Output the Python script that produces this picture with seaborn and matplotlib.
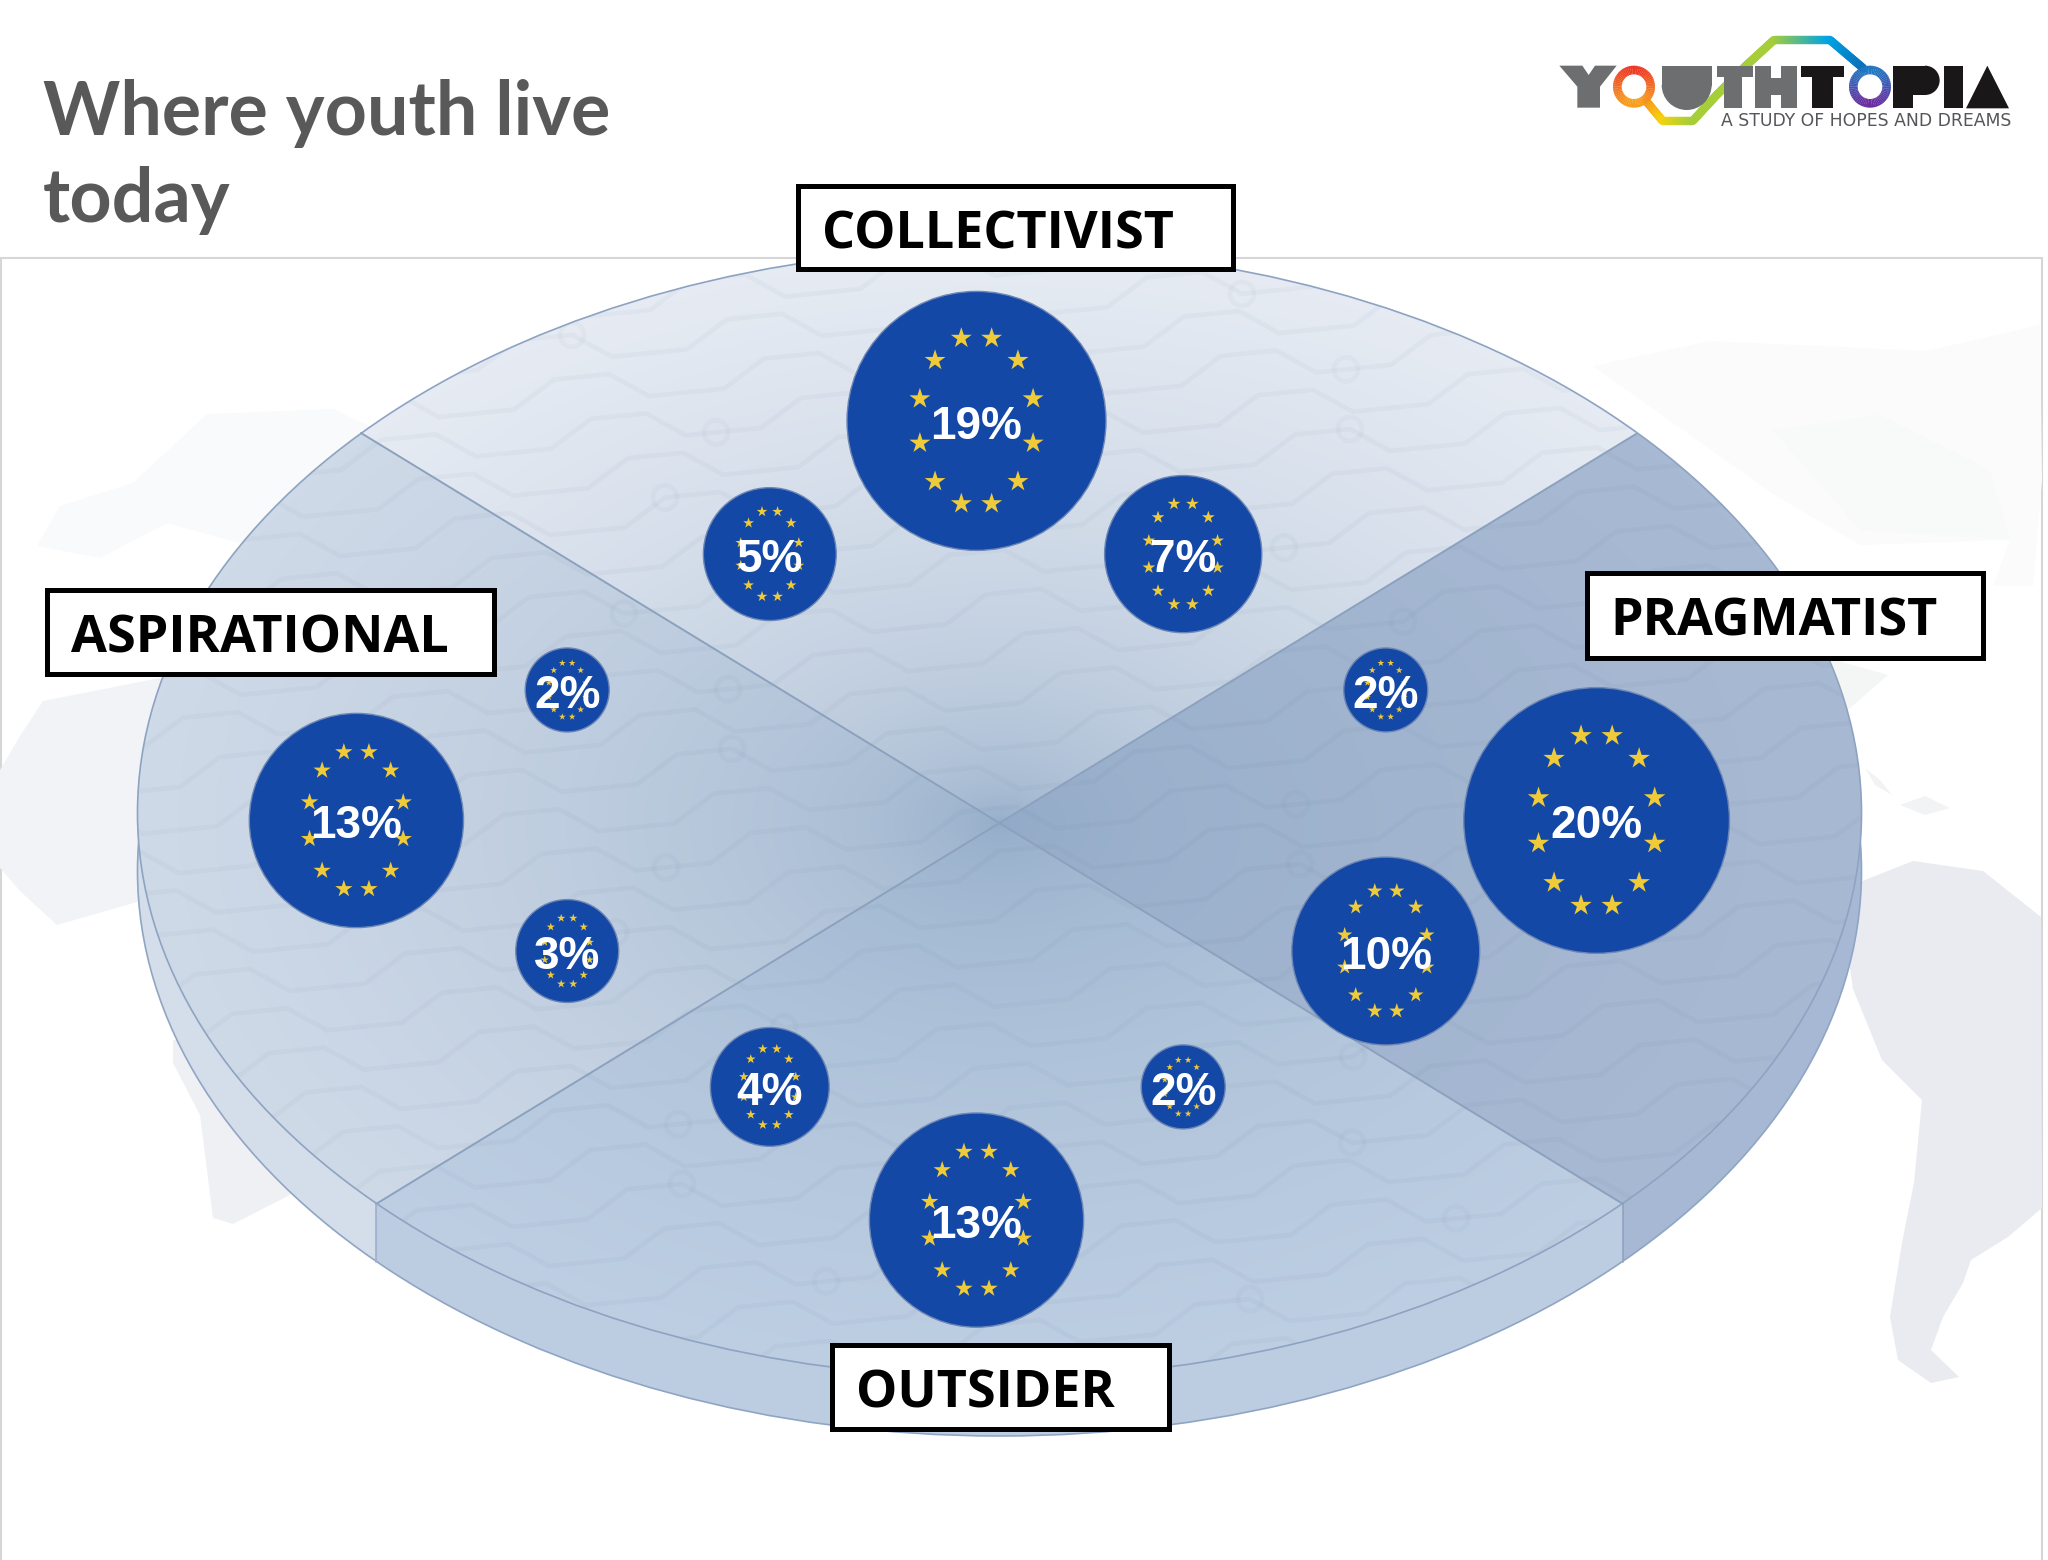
import numpy as np
import pandas as pd
import seaborn as sns
import matplotlib
matplotlib.use('Agg')
import matplotlib.pyplot as plt
from matplotlib.collections import LineCollection
from matplotlib.colors import to_rgb
from matplotlib.patches import Ellipse, Polygon, Rectangle, Wedge

# clock positions on the diamond grid, starting from 12 o'clock
bubble_share = [19, 7, 2, 20, 10, 2, 13, 4, 3, 13, 2, 5]
bubble_col = [0, 1, 1.98, 3, 1.98, 1, 0, -1, -1.98, -3, -1.98, -1]
bubble_row = [-3, -2, -0.98, 0, 0.98, 2, 3, 2, 0.98, 0, -0.98, -2]
segment_names = ["COLLECTIVIST", "PRAGMATIST", "OUTSIDER", "ASPIRATIONAL"]
title_lines = ["Where youth live", "today"]
logo_tagline = "A STUDY OF HOPES AND DREAMS"

W, H = 2048, 1560
CX, CY, RX, RY = 999.5, 813, 862, 565
THICK = 58
# grid spacing of the bubbles, in pixels
X0, Y0, DX, DY = 976.5, 820.5, 206.7, 133.2

sns.set_theme(style="white")
plt.rcParams['font.family'] = ['Liberation Sans', 'DejaVu Sans']

fig = plt.figure(figsize=(W / 100, H / 100), dpi=100, facecolor="white")
ax = fig.add_axes([0, 0, 1, 1])
ax.set_xlim(0, W)
ax.set_ylim(H, 0)
ax.axis("off")

# slide panel
ax.add_patch(Rectangle((1, 258), 2041, 1310, fc="white", ec="#d6d6d6", lw=1.5, zorder=0))

# faint world map behind the disc
map_shapes = [
    ("#f9fafb", [(37, 546), (60, 506), (133, 483), (207, 414), (333, 409), (420, 450), (300, 560), (167, 523), (100, 558)]),
    ("#f1f3f7", [(0, 770), (20, 736), (43, 701), (160, 678), (300, 690), (300, 900), (137, 902), (57, 925), (20, 891), (0, 868)]),
    ("#eef0f4", [(173, 1063), (200, 1115), (213, 1218), (233, 1224), (290, 1195), (340, 1150), (260, 1040), (173, 1040)]),
    ("#fbfbfc", [(1593, 366), (1710, 341), (1927, 351), (2040, 325), (2042, 480), (2033, 586), (1993, 586), (2010, 540), (1860, 545), (1773, 494)]),
    ("#f8f9f9", [(1773, 430), (1880, 415), (1990, 470), (2010, 540), (1860, 530)]),
    ("#f3f6f4", [(1800, 650), (1888, 675), (1850, 708), (1810, 720)]),
    ("#f1f3f5", [(1900, 805), (1925, 796), (1950, 808), (1925, 815)]),
    ("#f1f3f5", [(1865, 768), (1880, 780), (1892, 795), (1875, 785)]),
    ("#e9ebf1", [(1840, 900), (1860, 882), (1913, 861), (1983, 871), (2041, 917), (2042, 1208), (2008, 1237), (1971, 1260),
                 (1963, 1283), (1943, 1317), (1931, 1350), (1959, 1377), (1931, 1383), (1898, 1360), (1890, 1317), (1902, 1243),
                 (1914, 1183), (1922, 1100), (1882, 1060), (1853, 989)]),
]
for colour, pts in map_shapes:
    ax.add_patch(Polygon(pts, closed=True, fc=colour, ec="none", zorder=1))

# disc shading, built per pixel
yy, xx = np.mgrid[0:H, 0:W] + 0.5
s1 = yy - (433 + (xx - 361) * (1204 - 433) / (1623 - 361))
s2 = yy - (434 + (xx - 1636) * (1204 - 434) / (376 - 1636))
is_top = (s1 < 0) & (s2 < 0)
is_right = (s1 < 0) & (s2 >= 0)
is_bottom = (s1 >= 0) & (s2 >= 0)
is_left = (s1 >= 0) & (s2 < 0)
rho = np.clip(np.sqrt(((xx - 1001) / RX) ** 2 + ((yy - 823) / RY) ** 2), 0, 1)[..., None]
centre_col = np.array(to_rgb("#8fa9c6"))
face = np.zeros((H, W, 3))
for mask, rim in [(is_top, "#e6ebf3"), (is_right, "#a8b9d3"), (is_bottom, "#becfe3"), (is_left, "#cfdae8")]:
    shaded = centre_col + (np.array(to_rgb(rim)) - centre_col) * rho ** 0.45
    face[mask] = shaded[mask]

side = np.zeros((H, W, 3))
side[:] = to_rgb("#bccde2")
side[xx < 376] = to_rgb("#d3deea")
side[xx > 1623] = to_rgb("#a6b8d3")

side_edge = Ellipse((CX, CY + THICK), 2 * RX, 2 * RY, fc="none", ec="#90a5c4", lw=1.2, zorder=3, transform=ax.transData)
top_edge = Ellipse((CX, CY), 2 * RX, 2 * RY, fc="none", ec="#8ea3c2", lw=1.2, zorder=6, transform=ax.transData)
ax.add_patch(side_edge)
ax.add_patch(top_edge)

im = ax.imshow(side, extent=(0, W, H, 0), zorder=2, aspect="auto")
im.set_clip_path(side_edge)
im = ax.imshow(face, extent=(0, W, H, 0), zorder=4, aspect="auto")
im.set_clip_path(top_edge)
ax.set_xlim(0, W)
ax.set_ylim(H, 0)

# circuit-board pattern on the disc
tile_x = np.array([0, 45, 85, 140, 180, 210])
tile_y = np.array([0, 0, -26, -26, 0, 0])
wave_segments = []
node_x, node_y = [], []
for i, y_start in enumerate(range(60, 1800, 43)):
    shift = (i * 37) % 210
    xs, ys = [], []
    for k in range(-1, 11):
        xs.extend(tile_x + k * 210 + shift)
        ys.extend(tile_y + y_start)
    xs = np.array(xs, dtype=float)
    ys = np.array(ys, dtype=float) - (xs - 1000) * 0.1
    wave_segments.append(np.column_stack([xs, ys]))
    if i % 2 == 0:
        for j in range(1 + i % 5, len(xs), 19):
            node_x.append(xs[j])
            node_y.append(ys[j])
waves = LineCollection(wave_segments, colors="#53698a", linewidths=3.4, alpha=0.045, zorder=5)
ax.add_collection(waves)
waves.set_clip_path(top_edge)
nodes = ax.scatter(node_x, node_y, s=300, facecolors="none", edgecolors="#53698a", linewidths=3.4, alpha=0.04, zorder=5)
nodes.set_clip_path(top_edge)

# quadrant dividers and the two visible rim seams
ax.plot([361, 1623], [433, 1204], color="#8ca1bd", lw=1.4, zorder=6)
ax.plot([1636, 376], [434, 1204], color="#8ca1bd", lw=1.4, zorder=6)
ax.plot([376, 376], [1204, 1262], color="#9db0c9", lw=1.2, zorder=6)
ax.plot([1623, 1623], [1204, 1262], color="#8fa3bf", lw=1.2, zorder=6)

# bubbles, on their own axes in grid units
ax_b = fig.add_axes([0, 0, 1, 1], facecolor="none")
df = pd.DataFrame({"col": bubble_col, "row": bubble_row, "share": bubble_share})
sns.scatterplot(data=df, x="col", y="row", size="share", size_norm=(0, 20), sizes=(0, 20 * 1830),
                color="#1348a6", edgecolor="#6d86b5", linewidth=1, legend=False, ax=ax_b, zorder=7)
ax_b.set_xlim((0 - X0) / DX, (W - X0) / DX)
ax_b.set_ylim((H - Y0) / DY, (0 - Y0) / DY)
ax_b.axis("off")

# ring of stars inside each bubble
star_angles = np.deg2rad(15 + 30 * np.arange(12))
for share, col, row in zip(bubble_share, bubble_col, bubble_row):
    r = np.sqrt(873 * share)
    sx = col + 0.455 * r * np.cos(star_angles) / DX
    sy = row + 0.665 * r * np.sin(star_angles) / DY
    ax_b.scatter(sx, sy, s=(0.135 * r * 0.72) ** 2 * 1.6, marker="*", color="#efcb3a", edgecolors="none", zorder=8)
    ax_b.annotate(f"{share}%", (col, row), xytext=(0, -4.2), textcoords="offset points", ha="center", va="center",
                  color="white", fontsize=33, fontweight="bold", zorder=9)

# segment boxes
boxes = {
    "COLLECTIVIST": (796, 183, 1235, 272),
    "PRAGMATIST": (1584, 570, 1985, 660),
    "OUTSIDER": (830, 1342, 1171, 1431),
    "ASPIRATIONAL": (45, 587, 497, 676),
}
for name in segment_names:
    x0, y0, x1, y1 = boxes[name]
    ax_b.add_patch(Rectangle(((x0 + 2.5 - X0) / DX, (y0 + 2.5 - Y0) / DY), (x1 - x0 - 5) / DX, (y1 - y0 - 5) / DY,
                             fc="white", ec="black", lw=3.6, zorder=10))
    ax_b.text((x0 + 26 - X0) / DX, ((y0 + y1) / 2 + 1 - Y0) / DY, name, ha="left", va="center_baseline", color="black",
              fontsize=37.5, fontweight="bold", family=["Open Sans", "DejaVu Sans"], zorder=11)

# title, one text per line
for line, baseline in zip(title_lines, [135, 222]):
    ax_b.text((43 - X0) / DX, (baseline - Y0) / DY, line, ha="left", va="baseline", color="#595959", fontsize=53,
              fontweight="bold", family=["Lato", "DejaVu Sans"], zorder=11)


# logo, drawn from coordinates taken on a 3x crop
def lx(z):
    return 1520 + z / 3


def ly(z):
    return 20 + z / 3


def logo_poly(pts, colour, z=12):
    ax_l.add_patch(Polygon([(lx(a), ly(b)) for a, b in pts], closed=True, fc=colour, ec="none", zorder=z))


def logo_rect(a, b, w, h, colour):
    logo_poly([(a, b), (a + w, b), (a + w, b + h), (a, b + h)], colour)


def logo_ring(cx, cy, colour_top, colour_bottom):
    top, bottom = np.array(to_rgb(colour_top)), np.array(to_rgb(colour_bottom))
    for ang in range(0, 360, 6):
        frac = (np.sin(np.deg2rad(ang + 3)) + 1) / 2  # y axis points down
        ax_l.add_patch(Wedge((lx(cx), ly(cy)), 63 / 3, ang, ang + 6.5, width=26 / 3,
                             fc=top + (bottom - top) * frac, ec="none", zorder=13))


ax_l = fig.add_axes([0, 0, 1, 1], facecolor="none")
ax_l.set_xlim(0, W)
ax_l.set_ylim(H, 0)
ax_l.axis("off")

path_pts = np.array([(380, 245), (428, 303), (518, 303), (590, 225), (680, 135), (762, 60), (930, 60), (1030, 145)], float)
path_cols = ["#f7941d", "#f5d40f", "#a6ce39", "#a6ce39", "#a6ce39", "#a6ce39", "#00a4e4", "#0a6fba"]
seg_len = np.r_[0, np.cumsum(np.hypot(*np.diff(path_pts, axis=0).T))]
t = np.linspace(0, seg_len[-1], 160)
px = np.interp(t, seg_len, path_pts[:, 0])
py = np.interp(t, seg_len, path_pts[:, 1])
col_arr = np.array([to_rgb(c) for c in path_cols])
pc = np.column_stack([np.interp(t, seg_len, col_arr[:, i]) for i in range(3)])
for i in range(len(t) - 1):
    ax_l.plot([lx(px[i]), lx(px[i + 1])], [ly(py[i]), ly(py[i + 1])], color=pc[i], lw=6, solid_capstyle="round", zorder=11)

GREY, BLACK = "#6d6e70", "#1a1718"
logo_poly([(118, 137), (187, 137), (206, 165), (225, 137), (290, 137), (240, 200), (240, 263), (172, 263), (172, 200)], GREY)
logo_rect(425, 137, 150, 60, GREY)
ax_l.add_patch(Wedge((lx(500), ly(195)), 75 / 3, 0, 180, fc=GREY, ec="none", zorder=12))
logo_rect(590, 137, 110, 35, GREY)
logo_rect(612, 137, 55, 128, GREY)
logo_rect(706, 137, 48, 128, GREY)
logo_rect(784, 137, 48, 128, GREY)
logo_rect(706, 175, 126, 50, GREY)
logo_rect(842, 137, 130, 35, BLACK)
logo_rect(875, 137, 65, 128, BLACK)
logo_rect(1120, 137, 60, 128, BLACK)
logo_rect(1120, 137, 95, 88, BLACK)
ax_l.add_patch(Wedge((lx(1215), ly(181)), 44 / 3, -90, 90, fc=BLACK, ec="none", zorder=12))
logo_rect(1272, 137, 58, 128, BLACK)
logo_poly([(1402, 137), (1467, 265), (1338, 265)], BLACK)
logo_ring(342, 200, "#ee3a24", "#f7a01d")
logo_ring(1050, 200, "#1f78c1", "#6a2d9f")
ax_l.text(1866, 121, logo_tagline, ha="center", va="center", color="#55565a", fontsize=12.4,
          family=["DejaVu Sans"], zorder=12)

fig.savefig("out.png", dpi=100)
plt.close(fig)
